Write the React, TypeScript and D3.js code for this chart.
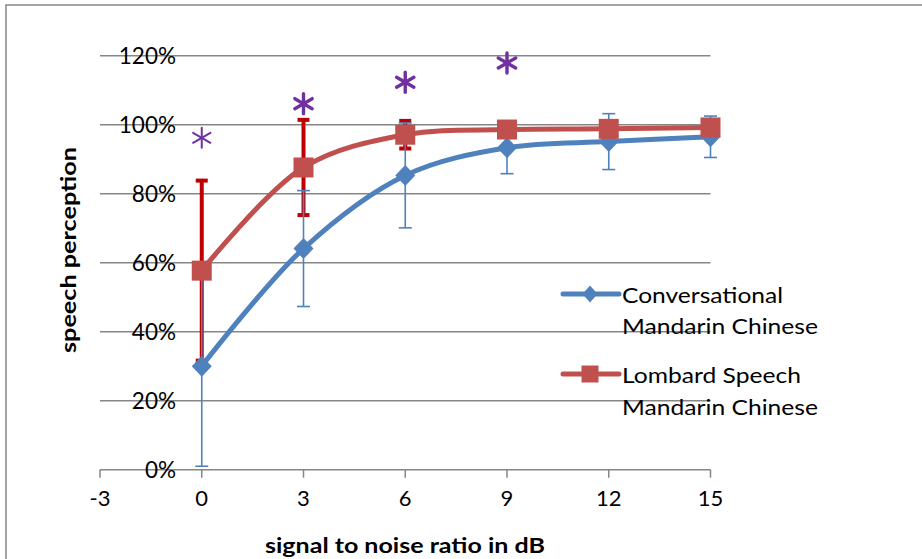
import React from "react";
import * as d3 from "d3";

const snr = [0, 3, 6, 9, 12, 15];
const conversational = [0.30, 0.641, 0.853, 0.933, 0.951, 0.965];
const conversationalErr = [0.29, 0.168, 0.152, 0.075, 0.081, 0.06];
const lombard = [0.577, 0.876, 0.971, 0.986, 0.988, 0.992];
const lombardErr = [0.261, 0.138, 0.04, 0.015, 0.015, 0.01];
const starX = [0, 3, 6, 9];
const starY = [0.962, 1.061, 1.123, 1.179];
const xTicks = [-3, 0, 3, 6, 9, 12, 15];
const yTicks = [0, 0.2, 0.4, 0.6, 0.8, 1.0, 1.2];
const seriesNames = [
  ["Conversational", "Mandarin Chinese"],
  ["Lombard Speech", "Mandarin Chinese"],
];
const xTitle = "signal to noise ratio in dB";
const yTitle = "speech perception";

const BLUE = "#4F81BD";
const RED = "#C0504D";
const RED_ERR = "#C00000";
const GRID = "#868686";
const PURPLE = "#7030A0";
const FONT = "Lato, 'Open Sans', sans-serif";

export default function App() {
  const x = d3.scaleLinear().domain([-3, 15]).range([100, 710.5]);
  const y = d3.scaleLinear().domain([0, 1.2]).range([469.7, 55.7]);
  const line = d3
    .line<number>()
    .x((_, i) => x(snr[i]))
    .y((d) => y(d))
    .curve(d3.curveCatmullRom.alpha(0.5));

  const star = (cx: number, cy: number, r: number, sw: number, key: string) => {
    const arms = [90, 30, -30].map((a) => {
      const rad = (a * Math.PI) / 180;
      const dx = Math.cos(rad) * r;
      const dy = Math.sin(rad) * r;
      return (
        <line
          key={a}
          x1={cx - dx}
          y1={cy - dy}
          x2={cx + dx}
          y2={cy + dy}
          stroke={PURPLE}
          strokeWidth={sw}
          strokeLinecap="round"
        />
      );
    });
    return <g key={key}>{arms}</g>;
  };

  const diamond = (cx: number, cy: number, w: number, h: number) =>
    `M${cx},${cy - h / 2}L${cx + w / 2},${cy}L${cx},${cy + h / 2}L${cx - w / 2},${cy}Z`;

  const legendText = (tx: number, ty: number, s: string, len: number) => (
    <text
      x={tx}
      y={ty}
      fontSize={22}
      dominantBaseline="central"
      textLength={len}
      lengthAdjust="spacingAndGlyphs"
    >
      {s}
    </text>
  );

  return (
    <svg
      width={922}
      height={559}
      style={{ position: "absolute", left: 0, top: 0, background: "#fff" }}
      fontFamily={FONT}
    >
      <rect x={6} y={5} width={1000} height={1000} fill="#fff" stroke={GRID} strokeWidth={1.5} />

      {/* gridlines */}
      {yTicks.slice(1).map((t) => (
        <line key={t} x1={x(-3)} x2={x(15)} y1={y(t)} y2={y(t)} stroke={GRID} strokeWidth={1.5} />
      ))}
      {/* x axis */}
      <line x1={x(-3)} x2={x(15)} y1={y(0)} y2={y(0)} stroke={GRID} strokeWidth={1.5} />
      {xTicks.map((t) => (
        <g key={t}>
          <line x1={x(t)} x2={x(t)} y1={y(0)} y2={y(0) + 8} stroke={GRID} strokeWidth={1.5} />
          <text x={x(t)} y={497} fontSize={22} textAnchor="middle" dominantBaseline="central" fill="#000">
            {t}
          </text>
        </g>
      ))}
      {/* y labels */}
      {yTicks.map((t) => (
        <text key={t} x={176} y={y(t)} fontSize={22.5} textAnchor="end" dominantBaseline="central" fill="#000">
          {`${Math.round(t * 100)}%`}
        </text>
      ))}

      {/* axis titles */}
      <text
        x={265}
        y={545}
        fontSize={20}
        fontWeight="bold"
        dominantBaseline="central"
        textLength={280}
        lengthAdjust="spacingAndGlyphs"
      >
        {xTitle}
      </text>
      <text
        transform={`translate(68,353) rotate(-90)`}
        fontSize={20}
        fontWeight="bold"
        dominantBaseline="central"
        textLength={206}
        lengthAdjust="spacingAndGlyphs"
      >
        {yTitle}
      </text>

      {/* red error bars */}
      {snr.map((s, i) => {
        const cx = x(s);
        const lo = y(lombard[i] - lombardErr[i]);
        const hi = y(lombard[i] + lombardErr[i]);
        return (
          <g key={"re" + i} stroke={RED_ERR} strokeWidth={4}>
            <line x1={cx} x2={cx} y1={lo} y2={hi} />
            <line x1={cx - 6} x2={cx + 6} y1={lo} y2={lo} />
            <line x1={cx - 6} x2={cx + 6} y1={hi} y2={hi} />
          </g>
        );
      })}
      {/* blue error bars */}
      {snr.map((s, i) => {
        const cx = x(s);
        const lo = y(conversational[i] - conversationalErr[i]);
        const hi = y(conversational[i] + conversationalErr[i]);
        return (
          <g key={"be" + i} stroke={BLUE} strokeWidth={1.6}>
            <line x1={cx} x2={cx} y1={lo} y2={hi} />
            <line x1={cx - 6.5} x2={cx + 6.5} y1={lo} y2={lo} />
            <line x1={cx - 6.5} x2={cx + 6.5} y1={hi} y2={hi} />
          </g>
        );
      })}

      {/* blue series */}
      <path d={line(conversational) || ""} fill="none" stroke={BLUE} strokeWidth={5} strokeLinejoin="round" />
      {conversational.map((v, i) => (
        <path key={"bd" + i} d={diamond(x(snr[i]), y(v), 20, 21)} fill={BLUE} />
      ))}

      {/* red series */}
      <path d={line(lombard) || ""} fill="none" stroke={RED} strokeWidth={5} strokeLinejoin="round" />
      {lombard.map((v, i) => (
        <rect key={"rs" + i} x={x(snr[i]) - 10} y={y(v) - 10} width={20} height={20} fill={RED} />
      ))}

      {/* significance asterisks */}
      {starX.map((s, i) => star(x(s), y(starY[i]), 10, i === 0 ? 2 : 3.4, "st" + i))}

      {/* legend */}
      <g>
        <line x1={563} x2={619} y1={294} y2={294} stroke={BLUE} strokeWidth={5} strokeLinecap="round" />
        <path d={diamond(590, 294, 15, 17)} fill={BLUE} />
        {legendText(622, 294, seriesNames[0][0], 161)}
        {legendText(622, 325, seriesNames[0][1], 196)}

        <line x1={563} x2={619} y1={374} y2={374} stroke={RED} strokeWidth={5} strokeLinecap="round" />
        <rect x={581.5} y={365.5} width={17} height={17} fill={RED} />
        {legendText(622, 374, seriesNames[1][0], 179)}
        {legendText(622, 406, seriesNames[1][1], 196)}
      </g>
    </svg>
  );
}
